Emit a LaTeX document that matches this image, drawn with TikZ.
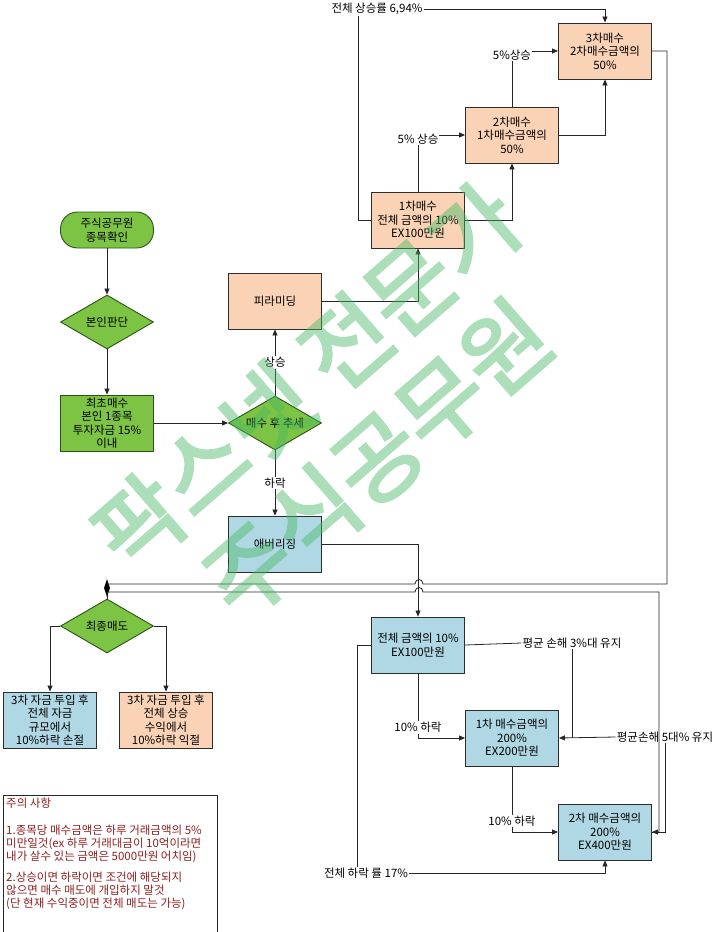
\documentclass[tikz,border=0pt]{standalone}
\usepackage{fontspec}
\setmainfont{Noto Sans CJK KR}
\newfontfamily\wmfont{Noto Sans CJK KR}[FakeBold=3]
\usetikzlibrary{shapes.geometric,arrows.meta}

\definecolor{boxgreen}{RGB}{125,195,68}
\definecolor{edgegreen}{RGB}{40,85,20}
\definecolor{peach}{RGB}{250,210,182}
\definecolor{paleblue}{RGB}{176,216,228}
\definecolor{edgegray}{RGB}{45,45,45}
\definecolor{notered}{RGB}{140,30,30}
\definecolor{markgreen}{RGB}{70,185,100}

\tikzset{
  every node/.style={font=\fontsize{11.5}{13.5}\selectfont, align=center},
  box/.style={rectangle, draw=edgegray, line width=0.9pt, minimum width=93pt, minimum height=56pt, inner sep=1pt},
  buybox/.style={box, fill=peach},
  losebox/.style={box, fill=paleblue},
  greenbox/.style={box, fill=boxgreen, draw=edgegreen},
  terminal/.style={rectangle, rounded corners=17pt, draw=edgegreen, line width=0.9pt, fill=boxgreen, minimum width=93pt, minimum height=36pt, inner sep=1pt},
  decision/.style={diamond, aspect=1.72, draw=edgegreen, line width=0.9pt, fill=boxgreen, minimum width=93pt, minimum height=54pt, inner sep=0.5pt},
  tag/.style={fill=white, inner sep=1pt},
  plain/.style={inner sep=1pt},
  link/.style={draw=black!85, line width=0.8pt},
  arr/.style={link, -{Triangle[length=6pt,width=5pt]}},
  wmark/.style={font=\wmfont\fontsize{92}{108}\selectfont, text=markgreen}
}

\begin{document}
\begin{tikzpicture}[x=1pt,y=-1pt]
\useasboundingbox (0,0) rectangle (720,932);
% Left flow
\node[terminal] (start) at (107,230) {주식공무원\\종목확인};
\node[decision] (judge) at (107,322) {본인판단};
\node[greenbox] (first) at (107,423) {최초매수\\본인 1종목\\투자자금 15\%\\이내};
\node[decision] (trend) at (275,423) {매수 후 추세};
\node[buybox] (pyr) at (275,301) {피라미딩};
\node[losebox] (avg) at (275,544) {애버리징};
% Pyramiding boxes
\node[buybox] (buy1) at (418,220) {1차매수\\전체 금액의 10\%\\EX100만원};
\node[buybox] (buy2) at (512,135) {2차매수\\1차매수금액의\\50\%};
\node[buybox] (buy3) at (605,51) {3차매수\\2차매수금액의\\50\%};
\node[plain] (uprate) at (377,9) {전체 상승률 6,94\%};
% Averaging boxes
\node[losebox] (tot) at (418,645) {전체 금액의 10\%\\EX100만원};
\node[losebox] (lossA) at (512,738) {1차 매수금액의\\200\%\\EX200만원};
\node[losebox] (lossB) at (605,832) {2차 매수금액의\\200\%\\EX400만원};
\node[plain] (avg3) at (572,643) {평균 손해 3\%대 유지};
\node[plain] (avg5) at (665,737) {평균손해 5대\% 유지};
\node[plain] (downrate) at (366,873) {전체 하락 률 17\%};
% Final sell
\node[fill=black, diamond, minimum width=6pt, minimum height=18pt, inner sep=0pt] (jct) at (107,588) {};
\coordinate (jup) at (107,584);
\coordinate (jlo) at (107,592);
\node[decision] (sell) at (107,626) {최종매도};
\node[losebox] (cut) at (50,720) {3차 자금 투입 후\\전체 자금\\규모에서\\10\%하락 손절};
\node[buybox] (gain) at (166,720) {3차 자금 투입 후\\전체 상승\\수익에서\\10\%하락 익절};
% Arrows
\draw[arr] (start.south) -- (judge.north);
\draw[arr] (judge.south) -- (first.north);
\draw[arr] (first.east) -- (trend.west);
\draw[arr] (trend.north) -- node[tag] {상승} (pyr.south);
\draw[arr] (trend.south) -- node[tag] {하락} (avg.north);
\draw[arr] (pyr.east) -| (buy1.south);
\draw[arr] (buy1.east) -| (buy2.south);
\draw[arr] (buy2.east) -| (buy3.south);
\draw[arr] (buy1.north) |- node[tag, pos=0.465] {5\% 상승} (buy2.west);
\draw[arr] (buy2.north) |- node[tag, pos=0.465] {5\%상승} (buy3.west);
\draw[link] (buy1.west) -| ([xshift=-19pt]uprate.south);
\draw[arr] (uprate.east) -| (buy3.north);
\draw[arr] (avg.east) -| (tot.north);
\draw[arr] (tot.south) |- node[tag, pos=0.42] {10\% 하락} (lossA.west);
\draw[arr] (lossA.south) |- node[tag, pos=0.415] {10\% 하락} (lossB.west);
\draw[link] (tot.east) -- (avg3.west);
\draw[link] (avg3.south) -- (avg3.south |- lossA.east);
\draw[arr] (avg5.west) -- (lossA.east);
\draw[link] (avg5.south) |- (lossB.east);
\draw[link] (tot.west) -| ([xshift=-9pt]downrate.north);
\draw[arr] (downrate.east) -| (lossB.south);
% Return lines (with hops)
\draw[link] (buy3.east) -| (667,584) -- (423,584) .. controls (423,578) and (415,578) .. (415,584) -- (jup);
\draw[arr] (jlo) -- (415,592) .. controls (415,586) and (423,586) .. (423,592) -- (659,592) |- (lossB.east);
\draw[link] (jlo) -- (sell.north);
\draw[arr] (sell.west) -| (cut.north);
\draw[arr] (sell.east) -| (gain.north);
% Notes
\draw[black!85, line width=0.8pt] (3,932) |- (217,795) -- (217,932);
\node[anchor=north west, align=left, text=notered, inner sep=0pt, font=\fontsize{11.5}{13}\selectfont] (note) at (6,798) {주의 사항\\[14pt]
1.종목당 매수금액은 하루 거래금액의 5\%\\
미만일것(ex 하루 거래대금이 10억이라면\\
내가 살수 있는 금액은 5000만원 어치임)\\[8pt]
2.상승이면 하락이면 조건에 해당되지\\
않으면 매수 매도에 개입하지 말것\\
(단 현재 수익중이면 전체 매도는 가능)};
% Watermark
\begin{scope}[transparency group, opacity=0.45]
\node[wmark, rotate=41] (mark) at (342,418) {팍스넷 전문가\\주식공무원};
\end{scope}
\end{tikzpicture}
\end{document}
